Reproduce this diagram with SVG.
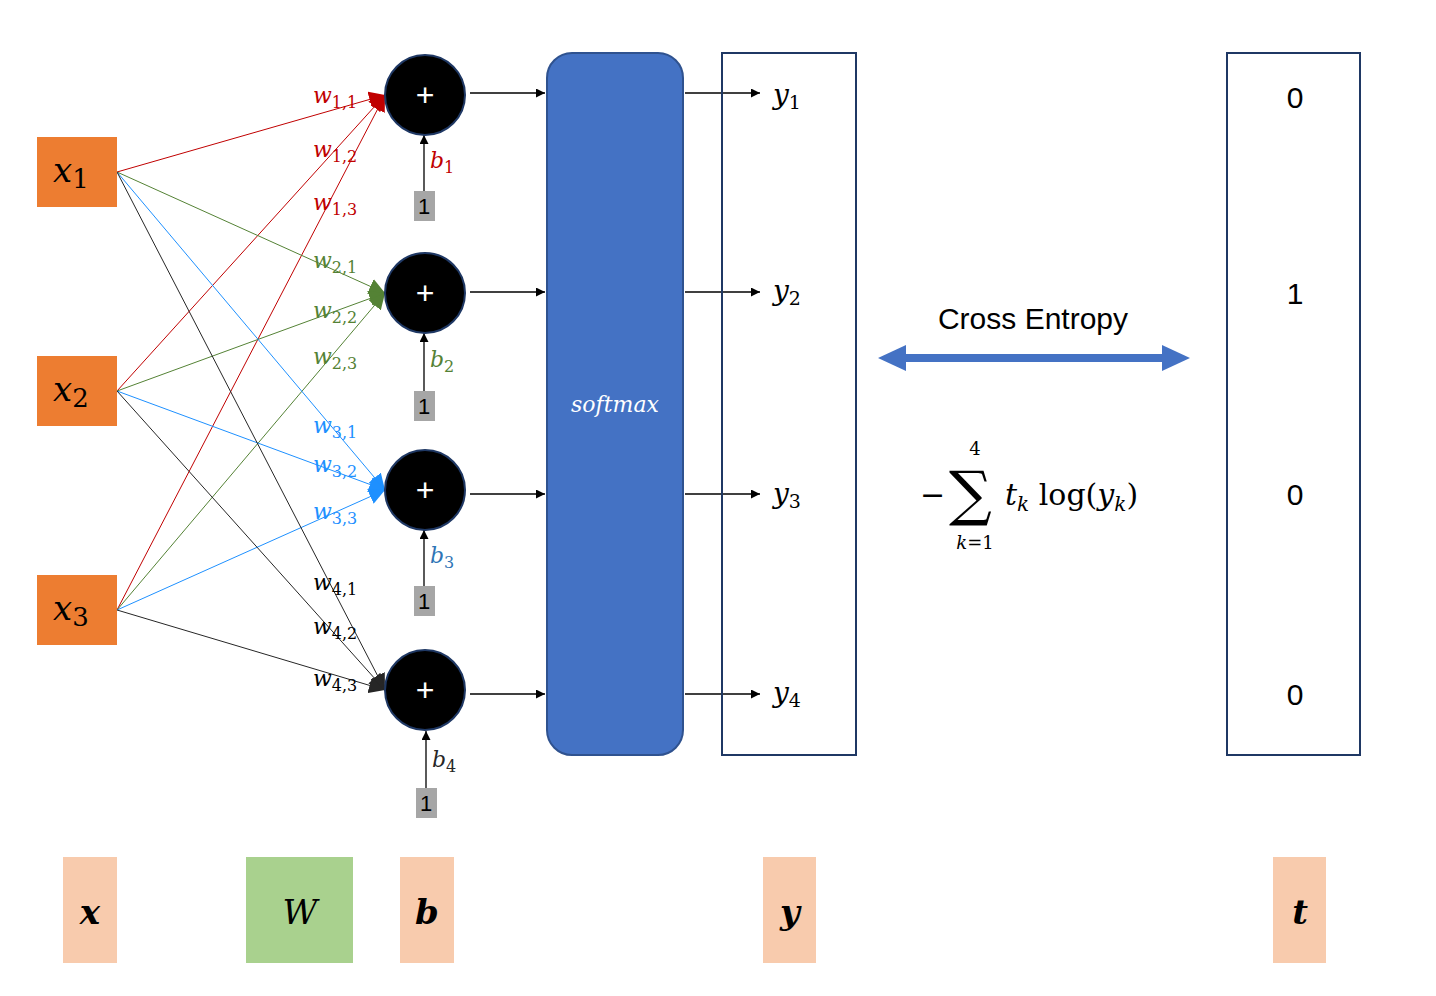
<svg xmlns="http://www.w3.org/2000/svg" width="1436" height="996" viewBox="0 0 1436 996">
<style>
.in{fill:#ED7D31}
.mx{font-family:"DejaVu Serif","Liberation Serif",serif;font-style:italic}
.sub{font-style:normal}
.sum{fill:#000;stroke:#1F3864;stroke-width:2}
.one{fill:#A6A6A6}
.t{font-family:"Liberation Sans",sans-serif}
.bl{stroke:#000;stroke-width:1.3;fill:none}
.bot{fill:#F8CBAD}
</style>
<defs>
<marker id="aR" viewBox="0 0 10 10" refX="10" refY="5" markerWidth="16" markerHeight="16" markerUnits="userSpaceOnUse" orient="auto"><path d="M0,0L10,5L0,10z" fill="#C00000"/></marker>
<marker id="aG" viewBox="0 0 10 10" refX="10" refY="5" markerWidth="16" markerHeight="16" markerUnits="userSpaceOnUse" orient="auto"><path d="M0,0L10,5L0,10z" fill="#548235"/></marker>
<marker id="aB" viewBox="0 0 10 10" refX="10" refY="5" markerWidth="16" markerHeight="16" markerUnits="userSpaceOnUse" orient="auto"><path d="M0,0L10,5L0,10z" fill="#1E90FF"/></marker>
<marker id="aK" viewBox="0 0 10 10" refX="10" refY="5" markerWidth="16" markerHeight="16" markerUnits="userSpaceOnUse" orient="auto"><path d="M0,0L10,5L0,10z" fill="#262626"/></marker>
<marker id="a" viewBox="0 0 10 10" refX="10" refY="5" markerWidth="9" markerHeight="9" markerUnits="userSpaceOnUse" orient="auto"><path d="M0,0L10,5L0,10z" fill="#000"/></marker>
</defs>
<rect width="1436" height="996" fill="#fff"/>
<g id="connectors" stroke-width="1">
<g stroke="#C00000" marker-end="url(#aR)"><line x1="117" y1="172" x2="385" y2="95"/><line x1="117" y1="391" x2="385" y2="95"/><line x1="117" y1="610" x2="385" y2="95"/></g>
<g stroke="#548235" marker-end="url(#aG)"><line x1="117" y1="172" x2="385" y2="293"/><line x1="117" y1="391" x2="385" y2="293"/><line x1="117" y1="610" x2="385" y2="293"/></g>
<g stroke="#1E90FF" marker-end="url(#aB)"><line x1="117" y1="172" x2="385" y2="490"/><line x1="117" y1="391" x2="385" y2="490"/><line x1="117" y1="610" x2="385" y2="490"/></g>
<g stroke="#262626" marker-end="url(#aK)"><line x1="117" y1="172" x2="385" y2="690"/><line x1="117" y1="391" x2="385" y2="690"/><line x1="117" y1="610" x2="385" y2="690"/></g>
<g class="bl" marker-end="url(#a)">
<line x1="424" y1="191" x2="424" y2="135"/><line x1="424" y1="391" x2="424" y2="333"/><line x1="424" y1="586" x2="424" y2="530"/><line x1="426" y1="788" x2="426" y2="731"/>
<line x1="470" y1="93" x2="545" y2="93"/><line x1="470" y1="292" x2="545" y2="292"/><line x1="470" y1="494" x2="545" y2="494"/><line x1="470" y1="694" x2="545" y2="694"/>
<line x1="685" y1="93" x2="760" y2="93"/><line x1="685" y1="292" x2="760" y2="292"/><line x1="685" y1="494" x2="760" y2="494"/><line x1="685" y1="694" x2="760" y2="694"/>
</g>
<g fill="#4472C4"><rect x="900" y="354" width="270" height="8"/><polygon points="878,358 906,345 906,371"/><polygon points="1190,358 1162,345 1162,371"/></g>
</g>
<g id="weights" class="mx" font-size="22">
<g fill="#C00000"><text x="313" y="103">w<tspan class="sub" font-size="16" dy="5">1,1</tspan></text><text x="313" y="157">w<tspan class="sub" font-size="16" dy="5">1,2</tspan></text><text x="313" y="210">w<tspan class="sub" font-size="16" dy="5">1,3</tspan></text></g>
<g fill="#548235"><text x="313" y="268">w<tspan class="sub" font-size="16" dy="5">2,1</tspan></text><text x="313" y="318">w<tspan class="sub" font-size="16" dy="5">2,2</tspan></text><text x="313" y="364">w<tspan class="sub" font-size="16" dy="5">2,3</tspan></text></g>
<g fill="#1E90FF"><text x="313" y="433">w<tspan class="sub" font-size="16" dy="5">3,1</tspan></text><text x="313" y="472">w<tspan class="sub" font-size="16" dy="5">3,2</tspan></text><text x="313" y="519">w<tspan class="sub" font-size="16" dy="5">3,3</tspan></text></g>
<g fill="#000"><text x="313" y="590">w<tspan class="sub" font-size="16" dy="5">4,1</tspan></text><text x="313" y="634">w<tspan class="sub" font-size="16" dy="5">4,2</tspan></text><text x="313" y="686">w<tspan class="sub" font-size="16" dy="5">4,3</tspan></text></g>
</g>
<g id="x1"><rect class="in" x="37" y="137" width="80" height="70"/><text class="mx" x="53" y="182" font-size="34">x<tspan class="sub" font-size="26" dy="6">1</tspan></text></g>
<g id="x2"><rect class="in" x="37" y="356" width="80" height="70"/><text class="mx" x="53" y="401" font-size="34">x<tspan class="sub" font-size="26" dy="6">2</tspan></text></g>
<g id="x3"><rect class="in" x="37" y="575" width="80" height="70"/><text class="mx" x="53" y="620" font-size="34">x<tspan class="sub" font-size="26" dy="6">3</tspan></text></g>
<g id="s1"><circle class="sum" cx="425" cy="95" r="40"/><text class="t" x="425" y="106" font-size="32" fill="#fff" text-anchor="middle">+</text></g>
<g id="s2"><circle class="sum" cx="425" cy="293" r="40"/><text class="t" x="425" y="304" font-size="32" fill="#fff" text-anchor="middle">+</text></g>
<g id="s3"><circle class="sum" cx="425" cy="490" r="40"/><text class="t" x="425" y="501" font-size="32" fill="#fff" text-anchor="middle">+</text></g>
<g id="s4"><circle class="sum" cx="425" cy="690" r="40"/><text class="t" x="425" y="701" font-size="32" fill="#fff" text-anchor="middle">+</text></g>
<g id="bias" class="t" font-size="22" text-anchor="middle">
<rect class="one" x="414" y="191" width="21" height="30"/><text x="424" y="214">1</text>
<rect class="one" x="414" y="391" width="21" height="30"/><text x="424" y="414">1</text>
<rect class="one" x="414" y="586" width="21" height="30"/><text x="424" y="609">1</text>
<rect class="one" x="416" y="788" width="21" height="30"/><text x="426" y="811">1</text>
</g>
<g id="blabels" class="mx" font-size="22">
<text x="430" y="168" fill="#C00000">b<tspan class="sub" font-size="16" dy="5">1</tspan></text>
<text x="430" y="367" fill="#548235">b<tspan class="sub" font-size="16" dy="5">2</tspan></text>
<text x="430" y="563" fill="#2E75B6">b<tspan class="sub" font-size="16" dy="5">3</tspan></text>
<text x="432" y="767" fill="#262626">b<tspan class="sub" font-size="16" dy="5">4</tspan></text>
</g>
<g id="softmax"><rect x="547" y="53" width="136" height="702" rx="25" fill="#4472C4" stroke="#2F528F" stroke-width="2"/><text class="mx" x="615" y="412" font-size="22" fill="#fff" text-anchor="middle">softmax</text></g>
<g id="y"><rect x="722" y="53" width="134" height="702" fill="none" stroke="#1F3864" stroke-width="2"/>
<g class="mx" font-size="28"><text x="773" y="104">y<tspan class="sub" font-size="19" dy="5">1</tspan></text><text x="773" y="300">y<tspan class="sub" font-size="19" dy="5">2</tspan></text><text x="773" y="503">y<tspan class="sub" font-size="19" dy="5">3</tspan></text><text x="773" y="702">y<tspan class="sub" font-size="19" dy="5">4</tspan></text></g></g>
<g id="t"><rect x="1227" y="53" width="133" height="702" fill="none" stroke="#1F3864" stroke-width="2"/>
<g class="t" font-size="30" text-anchor="middle"><text x="1295" y="108">0</text><text x="1295" y="304">1</text><text x="1295" y="505">0</text><text x="1295" y="705">0</text></g></g>
<g id="ce"><text class="t" x="1033" y="329" font-size="30" text-anchor="middle">Cross Entropy</text></g>
<g id="formula" font-family="DejaVu Serif,Liberation Serif,serif">
<text x="920" y="505" font-size="30">−</text>
<text x="949" y="514" font-size="60">∑</text>
<text x="975" y="455" font-size="18" text-anchor="middle">4</text>
<text x="975" y="549" font-size="18" text-anchor="middle"><tspan font-style="italic">k</tspan>=1</text>
<text x="1005" y="505" font-size="30"><tspan font-style="italic">t</tspan><tspan font-style="italic" font-size="20" dy="6">k</tspan><tspan dy="-6"> log(</tspan><tspan font-style="italic">y</tspan><tspan font-style="italic" font-size="20" dy="6">k</tspan><tspan dy="-6">)</tspan></text>
</g>
<g id="legend" class="mx" font-size="34" font-weight="bold" text-anchor="middle">
<rect class="bot" x="63" y="857" width="54" height="106"/><text x="90" y="924">x</text>
<rect x="246" y="857" width="107" height="106" fill="#A9D18E"/><text x="300" y="924" font-weight="normal">W</text>
<rect class="bot" x="400" y="857" width="54" height="106"/><text x="427" y="924">b</text>
<rect class="bot" x="763" y="857" width="53" height="106"/><text x="790" y="924">y</text>
<rect class="bot" x="1273" y="857" width="53" height="106"/><text x="1300" y="924">t</text>
</g>
</svg>
